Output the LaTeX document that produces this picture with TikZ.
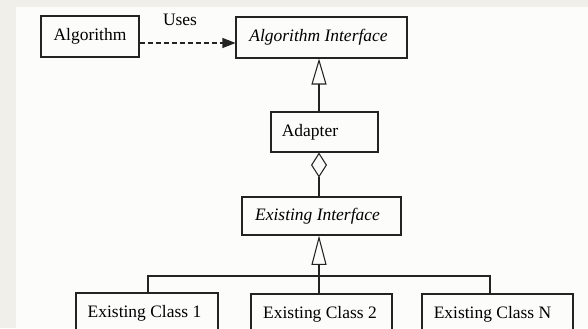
\documentclass[tikz,border=0pt]{standalone}
\usepackage{fontspec}
\setmainfont{Liberation Serif}
\usetikzlibrary{arrows.meta}
\definecolor{pagegrey}{RGB}{240,239,233}
\definecolor{paper}{RGB}{252,253,250}
\definecolor{ink}{RGB}{35,35,35}
\begin{document}
\begin{tikzpicture}[x=0.75pt,y=-0.75pt,
  font=\fontsize{13.1}{15}\selectfont,
  box/.style={draw=ink, line width=0.8pt, rectangle, inner sep=0pt,
    text height=9pt, text depth=3pt},
  link/.style={draw=ink, line width=0.8pt},
  realize/.style={link, -{Triangle[open, length=#1, width=11.25pt, line width=0.8pt]}},
  uses/.style={link, dash pattern=on 3.75pt off 2.25pt,
    -{Triangle[length=9.75pt, width=7.5pt]}},
  holds/.style={link, {Diamond[open, length=18.75pt, width=12pt, line width=0.8pt]}-}]
  % page backdrop
  \fill[pagegrey] (0,0) rectangle (588,328);
  \fill[paper] (16,7) rectangle (588,328);
  \useasboundingbox (0,0) rectangle (588,328);
  \clip (0,0) rectangle (588,328);

  % classes (a trailing kern moves each label a little left of centre)
  \node[box, minimum width=73.5pt, minimum height=30.75pt] (alg) at (90,36.5) {Algorithm};
  \node[box, minimum width=128.25pt, minimum height=30.75pt] (algi) at (321.5,37.5)
    {\textit{Algorithm Interface}\kern4.5pt};
  \node[box, minimum width=80.25pt, minimum height=30pt] (adapter) at (324.5,132)
    {Adapter\kern21.75pt};
  \node[box, minimum width=119.25pt, minimum height=28.5pt] (exi) at (321.5,216)
    {\textit{Existing Interface}\kern6pt};
  \node[box, minimum width=106.5pt, minimum height=30pt] (cone) at (147,313)
    {Existing Class 1\kern3.75pt};
  \node[box, minimum width=105.75pt, minimum height=30pt] (ctwo) at (321.5,314)
    {Existing Class 2\kern2.25pt};
  \node[box, minimum width=113.25pt, minimum height=30pt] (cn) at (497.5,314)
    {Existing Class N\kern7.5pt};

  % guide points for the connector routes
  \coordinate (usey) at (0,43);
  \coordinate (spine) at (319,0);
  \coordinate (barl) at (148,276);
  \coordinate (barr) at (490,276);
  \coordinate (barm) at (319,276);

  % Algorithm uses the interface
  \draw[uses] (alg.east |- usey) -- (algi.west |- usey);
  \node[inner sep=0pt, text height=9pt, text depth=3pt] (useslbl) at (180,22) {Uses};

  % Adapter realizes Algorithm Interface
  \draw[realize=19.5pt] (adapter.north -| spine) -- (algi.south -| spine);

  % Adapter holds an Existing Interface
  \draw[holds] (adapter.south -| spine) -- (exi.north -| spine);

  % existing classes realize Existing Interface
  \draw[realize=22pt] (barm) -- (exi.south -| spine);
  \draw[link] (cone.north -| barl) -- (barl) -- (barr) -- (cn.north -| barr);
  \draw[link] (barm) -- (ctwo.north -| barm);
\end{tikzpicture}
\end{document}
